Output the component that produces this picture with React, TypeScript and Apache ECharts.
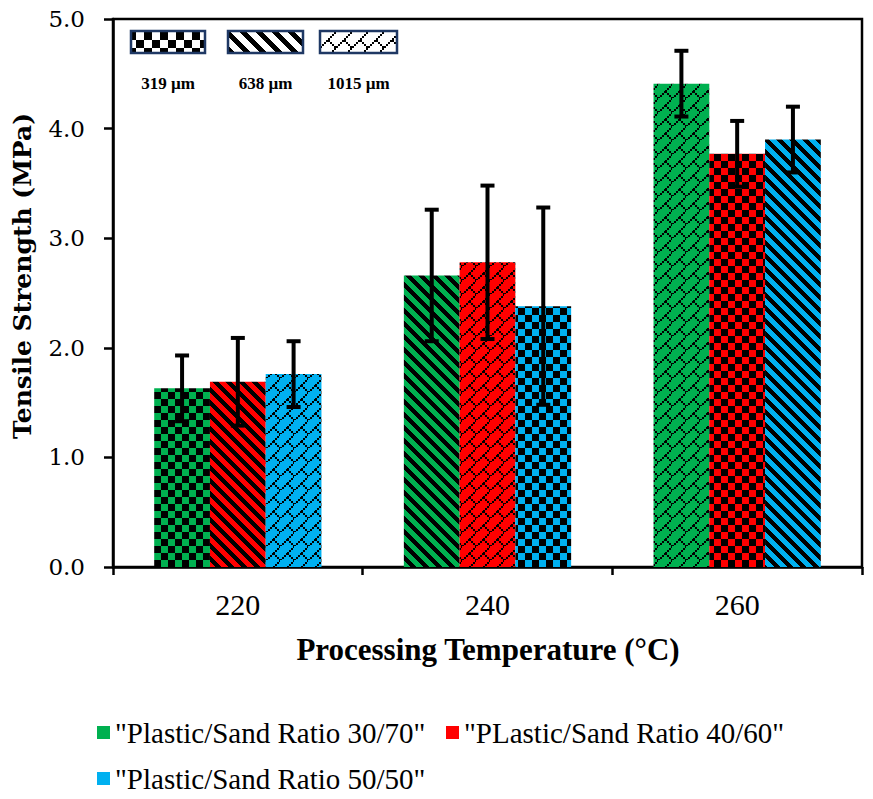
import React, { useEffect, useRef } from 'react';
import * as echarts from 'echarts';

const categories = ['220', '240', '260'];
const seriesNames = [
  '"Plastic/Sand Ratio 30/70"',
  '"PLastic/Sand Ratio 40/60"',
  '"Plastic/Sand Ratio 50/50"',
];
const ratio3070 = [1.63, 2.66, 4.41];
const ratio4060 = [1.69, 2.78, 3.77];
const ratio5050 = [1.76, 2.38, 3.9];
const err3070 = [0.3, 0.6, 0.3];
const err4060 = [0.4, 0.7, 0.3];
const err5050 = [0.3, 0.9, 0.3];
const pattern3070 = ['checker', 'stripe', 'brick'];
const pattern4060 = ['stripe', 'brick', 'checker'];
const pattern5050 = ['brick', 'checker', 'stripe'];
const sizeLabels = ['319 µm', '638 µm', '1015 µm'];
const sizePatterns = ['checker', 'stripe', 'brick'];
const seriesColors = ['#00b050', '#ff0000', '#00b0f0'];

const values = [ratio3070, ratio4060, ratio5050];
const errors = [err3070, err4060, err5050];
const patterns = [pattern3070, pattern4060, pattern5050];

const BRICK = [0x01, 0x02, 0x04, 0x08, 0x18, 0x24, 0x42, 0x81];
const GAP = 0.33;

function brickBit(bx: number, by: number) {
  const x = ((bx % 8) + 8) % 8;
  const y = ((by % 8) + 8) % 8;
  return ((BRICK[y] >> (7 - x)) & 1) === 1;
}

function ink(kind: string, x: number, y: number, T: number) {
  if (kind === 'checker') {
    const h = T / 2;
    return (Math.floor(x / h) + Math.floor(y / h)) % 2 === 0;
  }
  if (kind === 'stripe') return (((x - y) % T) + T) % T < Math.round(T * 0.45);
  const s = 8 / T;
  return brickBit(Math.floor(x * s), Math.floor(y * s));
}

function makeTile(kind: string, bg: string, T: number) {
  const c = document.createElement('canvas');
  c.width = T;
  c.height = T;
  const ctx = c.getContext('2d') as CanvasRenderingContext2D;
  const img = ctx.createImageData(T, T);
  const r = parseInt(bg.slice(1, 3), 16);
  const g = parseInt(bg.slice(3, 5), 16);
  const b = parseInt(bg.slice(5, 7), 16);
  for (let y = 0; y < T; y++) {
    for (let x = 0; x < T; x++) {
      const k = (y * T + x) * 4;
      const on = ink(kind, x, y, T);
      img.data[k] = on ? 0 : r;
      img.data[k + 1] = on ? 0 : g;
      img.data[k + 2] = on ? 0 : b;
      img.data[k + 3] = 255;
    }
  }
  ctx.putImageData(img, 0, 0);
  return { image: c.toDataURL(), repeat: 'repeat', imageWidth: T, imageHeight: T };
}

const tileSize: Record<string, number> = { checker: 14, stripe: 13, brick: 14 };

export default function App() {
  const ref = useRef<HTMLDivElement>(null);
  useEffect(() => {
    if (!ref.current) return;
    const chart = echarts.init(ref.current, null, { renderer: 'svg' });

    const barSeries = seriesNames.map((name, i) => ({
      type: 'bar',
      name,
      barGap: '0%',
      barCategoryGap: GAP * 100 + '%',
      itemStyle: { color: seriesColors[i] },
      emphasis: { disabled: true },
      z: 2,
      data: values[i].map((v, j) => ({
        value: v,
        itemStyle: {
          color: makeTile(patterns[i][j], seriesColors[i], tileSize[patterns[i][j]]),
        },
      })),
    }));

    const errSeries = seriesNames.map((_, i) => ({
      type: 'custom',
      z: 5,
      silent: true,
      encode: { x: 0, y: 1 },
      data: values[i].map((v, j) => [j, v, errors[i][j]]),
      renderItem: (params: any, api: any) => {
        const idx = api.value(0);
        const v = api.value(1);
        const e = api.value(2);
        const band = api.size([1, 0])[0];
        const barW = (band * (1 - GAP)) / 3;
        const c = api.coord([idx, v]);
        const cx = c[0] + (i - 1) * barW;
        const yTop = api.coord([idx, v + e])[1];
        const yBot = api.coord([idx, v - e])[1];
        const half = 7;
        const style = { stroke: '#000', lineWidth: 4 };
        return {
          type: 'group',
          children: [
            { type: 'line', shape: { x1: cx, y1: yTop, x2: cx, y2: yBot }, style },
            { type: 'line', shape: { x1: cx - half, y1: yTop, x2: cx + half, y2: yTop }, style },
            { type: 'line', shape: { x1: cx - half, y1: yBot, x2: cx + half, y2: yBot }, style },
          ],
        };
      },
    }));

    const boxX = [131, 228, 320];
    const boxW = [74, 75, 77];
    const graphics: any[] = [];
    sizeLabels.forEach((lab, k) => {
      graphics.push({
        type: 'rect',
        z: 10,
        shape: { x: boxX[k], y: 31, width: boxW[k], height: 22 },
        style: {
          fill: makeTile(sizePatterns[k], '#ffffff', 16),
          stroke: '#1f3864',
          lineWidth: 2.5,
        },
      });
      graphics.push({
        type: 'text',
        z: 10,
        x: boxX[k] + boxW[k] / 2,
        y: 83,
        style: {
          text: lab,
          align: 'center',
          verticalAlign: 'middle',
          font: 'bold 17px "Liberation Serif"',
          fill: '#000',
        },
      });
    });
    graphics.push({
      type: 'text',
      x: 22,
      y: 276,
      rotation: Math.PI / 2,
      style: {
        text: 'Tensile Strength (MPa)',
        align: 'center',
        verticalAlign: 'middle',
        font: 'bold 25px "DejaVu Serif"',
        fill: '#000',
      },
    });
    graphics.push({
      type: 'text',
      x: 488,
      y: 649,
      style: {
        text: 'Processing Temperature (°C)',
        align: 'center',
        verticalAlign: 'middle',
        font: 'bold 31px "Liberation Serif"',
        fill: '#000',
      },
    });

    const legendLeft = [92, 441, 92];
    const legendTop = [713, 713, 759];

    chart.setOption({
      animation: false,
      backgroundColor: '#fff',
      grid: {
        left: 113,
        right: 11,
        top: 19,
        bottom: 232,
        show: true,
        borderColor: '#000',
        borderWidth: 2.5,
      },
      legend: seriesNames.map((name, i) => ({
        data: [name],
        left: legendLeft[i],
        top: legendTop[i],
        icon: 'rect',
        itemWidth: 13,
        itemHeight: 13,
        itemGap: 0,
        selectedMode: false,
        textStyle: { fontFamily: 'Liberation Serif', fontSize: 29, color: '#000' },
      })),
      xAxis: {
        type: 'category',
        data: categories,
        axisLine: { lineStyle: { color: '#000', width: 2.5 } },
        axisTick: { show: true, length: 8, lineStyle: { color: '#000', width: 2.5 } },
        axisLabel: { color: '#000', fontFamily: 'Liberation Serif', fontSize: 30, margin: 22 },
        splitLine: { show: false },
      },
      yAxis: {
        type: 'value',
        min: 0,
        max: 5,
        interval: 1,
        axisLine: { show: true, lineStyle: { color: '#000', width: 2.5 } },
        axisTick: { show: true, length: 9, lineStyle: { color: '#000', width: 2.5 } },
        axisLabel: {
          color: '#000',
          fontFamily: 'DejaVu Serif',
          fontSize: 23,
          margin: 28,
          formatter: (v: number) => v.toFixed(1),
        },
        splitLine: { show: false },
      },
      graphic: graphics,
      series: [...barSeries, ...errSeries],
    });
    return () => chart.dispose();
  }, []);
  return <div ref={ref} style={{ position: 'absolute', left: 0, top: 0, width: 873, height: 799 }} />;
}
